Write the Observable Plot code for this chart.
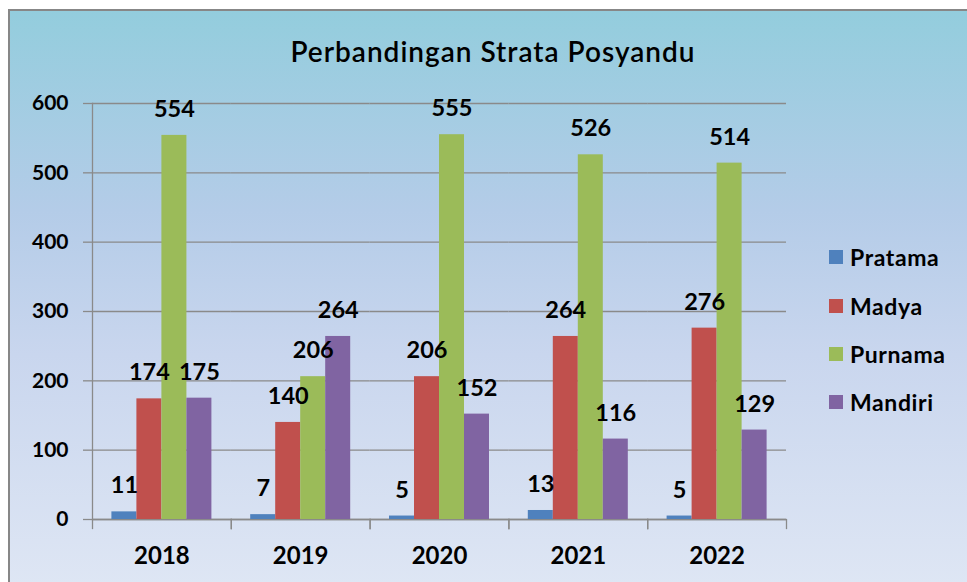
<!DOCTYPE html>
<html>
<head>
<meta charset="utf-8">
<script src="https://cdn.jsdelivr.net/npm/d3@7"></script>
<script src="https://cdn.jsdelivr.net/npm/@observablehq/plot@0.6"></script>
<style>
  html, body { margin: 0; padding: 0; background: #fff; }
  body { width: 967px; height: 582px; overflow: hidden; position: relative; font-family: Lato, "Open Sans", sans-serif; }
  #frame {
    position: absolute; left: 8px; top: 9px; width: 959px; height: 573px;
    border-top: 2px solid #878787; border-left: 2px solid #878787;
    background: linear-gradient(to bottom, #93CDDD 0%, #B4CCE8 35%, #C9D6EE 60%, #DEE6F4 100%);
  }
  #title {
    position: absolute; top: 25px; left: 483px; transform: translateX(-50%);
    white-space: nowrap; font-size: 28px; line-height: 30px; font-weight: 600; letter-spacing: 1px; color: #000;
  }
  #chart { position: absolute; left: 0; top: 69px; }
  #legend { position: absolute; left: 819px; top: 0; }
  .item { position: absolute; left: 0; display: flex; align-items: center; height: 30px; white-space: nowrap; }
  .sw { width: 14px; height: 14px; margin-right: 7px; }
  .lab { font-weight: bold; font-size: 23px; letter-spacing: 0.6px; color: #000; }
</style>
</head>
<body>
<div id="frame">
  <div id="title">Perbandingan Strata Posyandu</div>
  <div id="chart"></div>
  <div id="legend"></div>
</div>
<script>
const years = ["2018", "2019", "2020", "2021", "2022"];
const series = ["Pratama", "Madya", "Purnama", "Mandiri"];
const pratama = [11, 7, 5, 13, 5];
const madya = [174, 140, 206, 264, 276];
const purnama = [554, 206, 555, 526, 514];
const mandiri = [175, 264, 152, 116, 129];
const colors = ["#4F81BD", "#C0504D", "#9BBB59", "#8064A2"];
const yTicks = [0, 100, 200, 300, 400, 500, 600];

const values = [pratama, madya, purnama, mandiri];
const data = years.flatMap((yr, i) => series.map((s, j) => ({year: yr, series: s, value: values[j][i]})));

const gray = "#8a8a8a";
const chart = Plot.plot({
  width: 957, height: 502,
  marginTop: 23, marginBottom: 63, marginLeft: 82, marginRight: 181,
  style: {background: "transparent", fontFamily: "Lato, 'Open Sans', sans-serif", overflow: "visible", color: "#000"},
  fx: {domain: years, paddingInner: 0, paddingOuter: 0, round: false, axis: null, label: null},
  x: {domain: series, paddingInner: 0, paddingOuter: 0.776, round: false, axis: null},
  y: {domain: [0, 600], axis: null},
  color: {domain: series, range: colors},
  marks: [
    Plot.gridY(yTicks, {stroke: gray, strokeOpacity: 1, strokeWidth: 1.3}),
    Plot.frame({anchor: "left", facetAnchor: "left", stroke: gray, strokeWidth: 1.3}),
    Plot.frame({anchor: "left", insetTop: 416, insetBottom: -9, stroke: gray, strokeWidth: 1.3}),
    Plot.frame({anchor: "right", insetTop: 416, insetBottom: -9, stroke: gray, strokeWidth: 1.3}),
    Plot.ruleY([0], {stroke: gray, strokeWidth: 1.3}),
    Plot.barY(data, {fx: "year", x: "series", y: "value", fill: "series"}),
    Plot.text(data, {fx: "year", x: "series", y: "value", text: d => String(d.value), dy: -26, fontSize: 23.5, fontWeight: "bold", fill: "#000"}),
    Plot.axisY(yTicks, {tickSize: 9, tickPadding: 15, fontSize: 21, fontWeight: "bold", stroke: gray, strokeWidth: 1.3, fill: "#000", label: null}),
    Plot.axisFx({anchor: "bottom", tickSize: 0, tickPadding: 27, fontSize: 24, fontWeight: "bold", fill: "#000", label: null})
  ]
});
document.getElementById("chart").appendChild(chart);

const legend = document.getElementById("legend");
const rowCenters = [246, 295, 343, 391];
series.forEach((s, i) => {
  const it = document.createElement("div");
  it.className = "item";
  it.style.top = (rowCenters[i] - 15) + "px";
  it.innerHTML = `<div class="sw" style="background:${colors[i]}"></div><span class="lab">${s}</span>`;
  legend.appendChild(it);
});
</script>
</body>
</html>
